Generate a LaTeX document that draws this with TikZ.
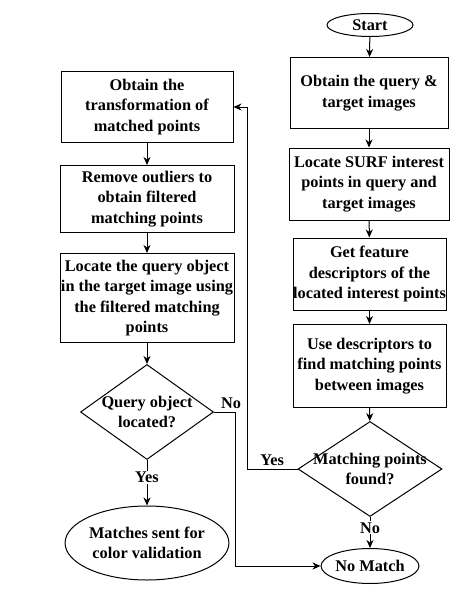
\documentclass[tikz,border=0pt]{standalone}
\usepackage{fontspec}
\setmainfont{Liberation Serif}
\usetikzlibrary{shapes.geometric,arrows.meta}

\begin{document}
\begin{tikzpicture}[
		x=1pt, y=-1pt,
		every node/.style={font=\bfseries\fontsize{16.3}{20.5}\selectfont, align=center},
		stepbox/.style={rectangle, draw, line width=1pt, inner sep=0pt},
		decision/.style={diamond, draw, line width=1pt, inner sep=0pt},
		terminal/.style={ellipse, draw, line width=1pt, inner sep=0pt},
		arrow/.style={line width=1pt, -{Stealth[length=8pt, width=7pt, inset=2.5pt]}}
	]
  \useasboundingbox (0,0) rectangle (474,600);
  % right column
  \node (start) [terminal, minimum width=86, minimum height=23] at (370, 25) {Start};
  \node (getimg) [stepbox, minimum width=158, minimum height=71] at (369, 93) {Obtain the query \&\\target images};
  \node (surf) [stepbox, minimum width=160, minimum height=72] at (369, 184) {Locate SURF interest\\points in query and\\target images};
  \node (descr) [stepbox, minimum width=153, minimum height=72] at (369.5, 274) {Get feature\\descriptors of the\\located interest points};
  \node (match) [stepbox, minimum width=153, minimum height=83] at (369.5, 366) {Use descriptors to\\find matching points\\between images};
  \node (found) [decision, minimum width=144, minimum height=95,
    label={[align=center]center:{Matching points\\found?}}] at (370, 469) {};
  \node (nomatch) [terminal, minimum width=85, minimum height=35] at (370, 566) {No Match};
  % left column
  \node (transf) [stepbox, minimum width=172, minimum height=71] at (147, 107) {Obtain the\\transformation of\\matched points};
  \node (outl) [stepbox, minimum width=174, minimum height=67] at (147, 199) {Remove outliers to\\obtain filtered\\matching points};
  \node (locobj) [stepbox, minimum width=174, minimum height=89] at (147, 298) {Locate the query object\\in the target image using\\the filtered matching\\points};
  \node (qloc) [decision, minimum width=133, minimum height=95,
    label={[align=center]center:{Query object\\located?}}] at (147, 412) {};
  \node (sent) [terminal, minimum width=147, minimum height=74] at (147, 543) {Matches sent for\\color validation};
  \coordinate (yesturn) at (247, 469);
  \coordinate (noturn) at (235, 412);
  % connectors
  \draw[arrow] (start) -- (getimg);
  \draw[arrow] (getimg) -- (surf);
  \draw[arrow] (surf) -- (descr);
  \draw[arrow] (descr) -- (match);
  \draw[arrow] (match) -- (found);
  \draw[arrow] (found) -- node[fill=white, inner sep=1pt, pos=0.35] {No} (nomatch);
  \draw[arrow] (found) -- node[above, pos=0.5] {Yes} (yesturn) |- (transf);
  \draw[arrow] (transf) -- (outl);
  \draw[arrow] (outl) -- (locobj);
  \draw[arrow] (locobj) -- (qloc);
  \draw[arrow] (qloc) -- node[fill=white, inner sep=1pt, pos=0.38] {Yes} (sent);
  \draw[arrow] (qloc) -- (noturn) node[above, xshift=-4] {No} |- (nomatch);
\end{tikzpicture}
\end{document}
